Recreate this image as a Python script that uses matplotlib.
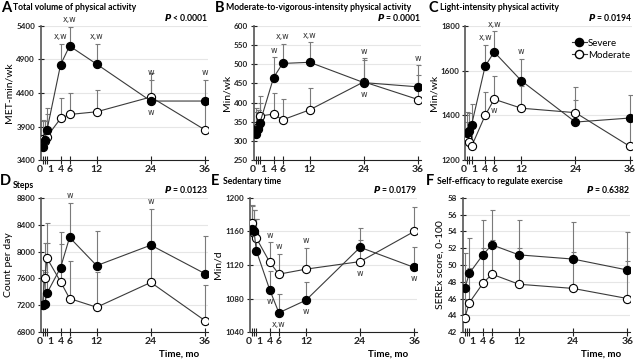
import numpy as np
import matplotlib
matplotlib.use('Agg')
import matplotlib.pyplot as plt
from matplotlib.lines import Line2D

plt.rcParams['font.family'] = ['Lato', 'DejaVu Sans']
plt.rcParams['font.weight'] = 'bold'

TIME = [0, 0.5, 1, 4, 6, 12, 24, 36]
TIME_F = [0, 1, 4, 6, 12, 24, 36]

# A: total volume
A_sev = [3600, 3700, 3850, 4820, 5100, 4830, 4280, 4280]
A_sev_top = [4000, 3980, 4170, 5130, 5380, 5130, 4700, 4600]
A_mod = [3720, 3680, 3750, 4020, 4080, 4120, 4340, 3850]
A_mod_top = [3990, 3900, 4080, 4330, 4400, 4450, 4600, 4280]
# B: MVPA
B_sev = [318, 330, 348, 465, 502, 505, 452, 441]
B_sev_top = [375, 380, 400, 518, 553, 557, 510, 497]
B_mod = [328, 336, 365, 370, 355, 381, 454, 408]
B_mod_top = [385, 380, 418, 425, 410, 438, 515, 472]
# C: light
C_sev = [1320, 1330, 1358, 1620, 1683, 1555, 1370, 1388]
C_sev_top = [1415, 1410, 1452, 1715, 1775, 1652, 1470, 1492]
C_mod = [1305, 1280, 1262, 1400, 1472, 1432, 1412, 1262]
C_mod_top = [1370, 1350, 1360, 1505, 1575, 1530, 1525, 1380]
# D: steps
D_sev = [7200, 7220, 7380, 7760, 8210, 7790, 8095, 7670]
D_sev_top = [7720, 7700, 8120, 8290, 8720, 8310, 8630, 8230]
D_mod = [7210, 7600, 7900, 7550, 7300, 7170, 7540, 6970]
D_mod_top = [7600, 8120, 8420, 8110, 7860, 7700, 8150, 7500]
# E: sedentary
E_sev = [1163, 1160, 1137, 1090, 1063, 1078, 1141, 1117]
E_sev_top = [1190, 1185, 1175, 1113, 1085, 1100, 1164, 1141]
E_mod = [1170, 1158, 1152, 1123, 1109, 1115, 1124, 1160]
E_mod_top = [1192, 1185, 1175, 1147, 1133, 1140, 1150, 1189]
# F: self-efficacy
F_sev = [47.2, 49.0, 51.2, 52.4, 51.2, 50.7, 49.4]
F_sev_top = [51.4, 53.2, 55.4, 56.5, 55.4, 55.1, 53.9]
F_mod = [43.7, 45.5, 47.8, 48.9, 47.7, 47.2, 46.0]
F_mod_top = [47.0, 49.6, 52.0, 53.0, 52.0, 51.6, 50.5]

# (time, series, side, text)
A_notes = [(4, 'sev', 'up', 'x,w'), (6, 'sev', 'up', 'x,w'), (12, 'sev', 'up', 'x,w'),
           (24, 'mod', 'up', 'w'), (24, 'sev', 'down', 'w'), (36, 'sev', 'up', 'w')]
B_notes = [(4, 'sev', 'up', 'w'), (6, 'sev', 'up', 'x,w'), (12, 'sev', 'up', 'x,w'),
           (24, 'mod', 'up', 'w'), (24, 'sev', 'down', 'w'), (36, 'sev', 'up', 'w')]
C_notes = [(4, 'sev', 'up', 'x,w'), (6, 'sev', 'up', 'x,w'), (12, 'sev', 'up', 'w'),
           (6, 'mod', 'down', 'w')]
D_notes = [(6, 'sev', 'up', 'w'), (24, 'sev', 'up', 'w')]
E_notes = [(4, 'mod', 'up', 'w'), (6, 'mod', 'up', 'w'), (12, 'mod', 'up', 'w'),
           (4, 'sev', 'down', 'w'), (6, 'sev', 'down', 'x,w'), (12, 'sev', 'down', 'w'),
           (24, 'mod', 'down', 'w'), (36, 'sev', 'down', 'w')]
F_notes = []

panels = [
    ('A', 'Total volume of physical activity', 'MET-min/wk', '< 0.0001', TIME,
     A_sev, A_sev_top, A_mod, A_mod_top, [3400, 3900, 4400, 4900, 5400], A_notes),
    ('B', 'Moderate-to-vigorous-intensity physical activity', 'Min/wk', '= 0.0001', TIME,
     B_sev, B_sev_top, B_mod, B_mod_top, list(range(250, 601, 50)), B_notes),
    ('C', 'Light-intensity physical activity', 'Min/wk', '= 0.0194', TIME,
     C_sev, C_sev_top, C_mod, C_mod_top, [1200, 1400, 1600, 1800], C_notes),
    ('D', 'Steps', 'Count per day', '= 0.0123', TIME,
     D_sev, D_sev_top, D_mod, D_mod_top, list(range(6800, 8801, 400)), D_notes),
    ('E', 'Sedentary time', 'Min/d', '= 0.0179', TIME,
     E_sev, E_sev_top, E_mod, E_mod_top, list(range(1040, 1201, 40)), E_notes),
    ('F', 'Self-efficacy to regulate exercise', 'SEREx score, 0-100', '= 0.6382', TIME_F,
     F_sev, F_sev_top, F_mod, F_mod_top, list(range(42, 59, 2)), F_notes),
]

W, H = 641, 359
lefts = [40.7, 253.7, 465.3, 40.7, 250, 463]
letter_x = [1, 215, 428, 0, 211, 426]
title_x = [13, 226, 440, 13, 223, 437]
letter_y = [8, 8, 8, 181, 181, 181]
title_y = [8, 8, 8, 186, 181, 181]

fig = plt.figure(figsize=(W / 100, H / 100), dpi=100)

for i, (letter, title, ylab, pval, t, sev, sev_top, mod, mod_top, yt, notes) in enumerate(panels):
    row = i // 3
    bottom = 0.554 if row == 0 else 0.075
    ax = fig.add_axes([lefts[i] / W, bottom, 167 / W, 0.374])
    t = np.array(t)
    for vals, tops, face, z in [(mod, mod_top, 'white', 3), (sev, sev_top, 'black', 4)]:
        vals = np.array(vals, float)
        tops = np.array(tops, float)
        ax.errorbar(t, vals, yerr=[np.zeros_like(vals), tops - vals], fmt='none',
                    ecolor='#7a7a7a', elinewidth=0.8, capsize=1.8, capthick=0.8, zorder=z - 1)
        ax.plot(t, vals, '-', color='#3a3a3a', lw=0.8, marker='o', ms=5.9,
                mfc=face, mec='black', mew=0.8, zorder=z + 2)
    series = {'sev': (sev, sev_top), 'mod': (mod, mod_top)}
    for tm, s, side, txt in notes:
        k = list(t).index(tm)
        vals, tops = series[s]
        if side == 'up':
            ax.annotate(txt, (tm, tops[k]), xytext=(0, 2), textcoords='offset points',
                        ha='center', va='bottom', fontsize=5.8, family='DejaVu Sans',
                        fontweight='normal', color='#333333')
        else:
            ax.annotate(txt, (tm, vals[k]), xytext=(0, -5), textcoords='offset points',
                        ha='center', va='top', fontsize=5.8, family='DejaVu Sans',
                        fontweight='normal', color='#333333')

    ax.set_xlim(-0.4, 36.6)
    ax.set_ylim(yt[0], yt[-1])
    ax.set_yticks(yt)
    ax.set_xticks([0, 1, 4, 6, 12, 24, 36])
    ax.set_xticklabels(['0', '1', '4', '6', '12', '24', '36'])
    ax.set_xticks([0.5], minor=True)
    ax.tick_params(axis='x', which='both', direction='inout', length=6, width=0.8,
                   labelsize=7.5, pad=0.5, colors='#222222')
    ax.tick_params(axis='y', direction='inout', length=5, width=0.8, labelsize=5.8, pad=1.5,
                   colors='#222222')
    labels = ax.get_xticklabels()
    labels[0].set_horizontalalignment('right')
    labels[1].set_horizontalalignment('left')
    ax.grid(axis='y', color='#e6e6e6', lw=0.8)
    ax.set_axisbelow(True)
    for s in ['top', 'right']:
        ax.spines[s].set_visible(False)
    ax.spines['left'].set_color('#555555')
    ax.spines['left'].set_linewidth(1.2)
    ax.spines['bottom'].set_color('#222222')
    ax.spines['bottom'].set_linewidth(0.8)
    ax.set_ylabel(ylab, fontsize=7.5, labelpad=2)

    fig.text(letter_x[i] / W, 1 - letter_y[i] / H, letter, fontsize=10.5,
             fontweight='bold', va='center', ha='left')
    fig.text(title_x[i] / W, 1 - title_y[i] / H, title, fontsize=6.2,
             fontweight='bold', va='center', ha='left')
    ax.text(1.0, 1.02, '$\\boldsymbol{P}$ ' + pval, transform=ax.transAxes, fontsize=6.2,
            fontweight='bold', ha='right', va='bottom')
    if row == 1:
        ax.text(0.83, -0.13, 'Time, mo', transform=ax.transAxes, fontsize=7,
                fontweight='bold', ha='center', va='top')
    if letter == 'C':
        handles = [Line2D([], [], color='#3a3a3a', lw=0.8, marker='o', ms=5.9, mfc='black', mec='black'),
                   Line2D([], [], color='#3a3a3a', lw=0.8, marker='o', ms=5.9, mfc='white', mec='black')]
        ax.legend(handles, ['Severe', 'Moderate'], loc='upper right', bbox_to_anchor=(1.04, 0.97),
                  frameon=False, handlelength=1.6, handletextpad=0.1,
                  labelspacing=0.3, prop={'weight': 'normal', 'size': 7})

fig.savefig('out.png', dpi=100)
